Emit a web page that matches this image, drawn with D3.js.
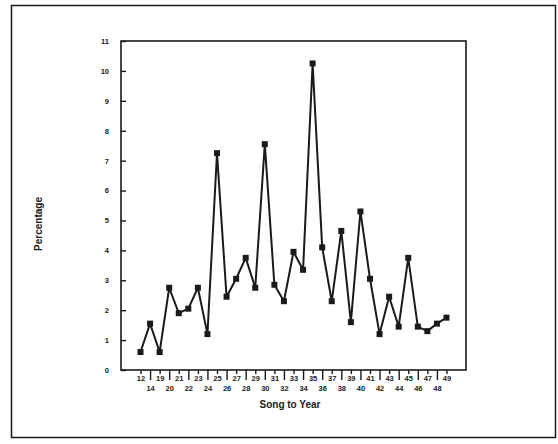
<!DOCTYPE html>
<html lang="en">
<head>
  <meta charset="UTF-8">
  <title>Percentage by Song to Year</title>
  <script src="https://d3js.org/d3.v7.min.js"></script>
  <style>
    body { margin: 0; background: #fff; }
    text { font-family: "Liberation Sans", Arial, sans-serif; font-weight: bold; fill: #1a1a1a; }
  </style>
</head>
<body>
<div id="chart"></div>
<script>

// values
var years = ["12", "14", "19", "20", "21", "22", "23", "24", "25", "26", "27",
             "28", "29", "30", "31", "32", "33", "34", "35", "36", "37", "38",
             "39", "40", "41", "42", "43", "44", "45", "46", "47", "48", "49"];
var percentage = [0.6, 1.55, 0.6, 2.75, 1.9, 2.05, 2.75, 1.2, 7.25, 2.45, 3.05,
                  3.75, 2.75, 7.55, 2.85, 2.3, 3.95, 3.35, 10.25, 4.1, 2.3, 4.65,
                  1.6, 5.3, 3.05, 1.2, 2.45, 1.45, 3.75, 1.45, 1.3, 1.55, 1.75];
var yTicks = [0, 1, 2, 3, 4, 5, 6, 7, 8, 9, 10, 11];

var W = 558, H = 444;
var plot = {left: 121, right: 466, top: 41, bottom: 370};

var svg = d3.select("#chart").append("svg")
  .attr("width", W)
  .attr("height", H);

// outer box of the figure
svg.append("rect")
  .attr("x", 11.5).attr("y", 5.5)
  .attr("width", 544).attr("height", 432)
  .attr("fill", "none")
  .attr("stroke", "#1a1a1a")
  .attr("stroke-width", 1.5);

var x = d3.scalePoint()
  .domain(years)
  .range([plot.left, plot.right])
  .padding(2.04);

var y = d3.scaleLinear()
  .domain([0, 11])
  .range([plot.bottom, plot.top]);

// plot frame
svg.append("rect")
  .attr("x", plot.left).attr("y", plot.top)
  .attr("width", plot.right - plot.left)
  .attr("height", plot.bottom - plot.top)
  .attr("fill", "none")
  .attr("stroke", "#1a1a1a")
  .attr("stroke-width", 1.6);

// y axis, ticks pointing inside
var yAxis = svg.append("g")
  .attr("transform", "translate(" + plot.left + ",0)")
  .call(d3.axisRight(y).tickValues(yTicks).tickSize(5).tickFormat(d3.format("d")));
yAxis.select(".domain").remove();
yAxis.selectAll("line").attr("stroke", "#1a1a1a").attr("stroke-width", 1.4);
yAxis.selectAll("text")
  .attr("x", -12)
  .attr("text-anchor", "end")
  .style("font-size", "7.5px");

// x axis, alternating short and long ticks with two label rows
var xAxis = svg.append("g")
  .attr("transform", "translate(0," + plot.bottom + ")")
  .call(d3.axisBottom(x).tickSize(4));
xAxis.select(".domain").remove();
xAxis.selectAll(".tick line")
  .attr("stroke", "#1a1a1a")
  .attr("stroke-width", 1.4)
  .attr("y2", function(d, i) { return i % 2 ? 10 : 4; });
xAxis.selectAll(".tick text")
  .attr("y", function(d, i) { return i % 2 ? 16 : 6; })
  .attr("dy", "0.71em")
  .style("font-size", "7.5px");

// axis titles
svg.append("text")
  .attr("x", 290).attr("y", 408)
  .attr("text-anchor", "middle")
  .style("font-size", "10px")
  .text("Song to Year");

svg.append("text")
  .attr("transform", "translate(42,224) rotate(-90)")
  .attr("text-anchor", "middle")
  .style("font-size", "10px")
  .text("Percentage");

// series
var line = d3.line()
  .x(function(d, i) { return x(years[i]); })
  .y(function(d) { return y(d); });

svg.append("path")
  .datum(percentage)
  .attr("d", line)
  .attr("fill", "none")
  .attr("stroke", "#1a1a1a")
  .attr("stroke-width", 2)
  .attr("stroke-linejoin", "round");

svg.selectAll(".pt")
  .data(percentage)
  .enter().append("rect")
  .attr("class", "pt")
  .attr("x", function(d, i) { return x(years[i]) - 3; })
  .attr("y", function(d) { return y(d) - 3; })
  .attr("width", 6)
  .attr("height", 6)
  .attr("fill", "#1a1a1a");

</script>
</body>
</html>
